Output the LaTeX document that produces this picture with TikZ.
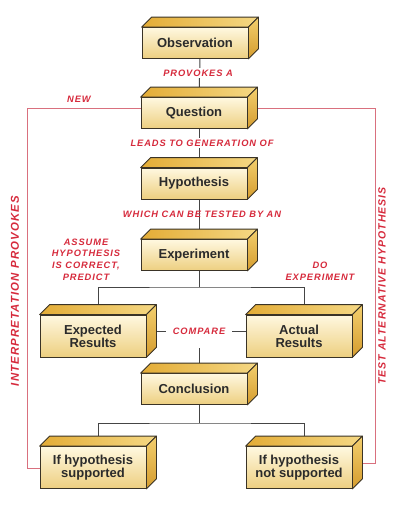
\documentclass[tikz,border=0pt]{standalone}
\usepackage{fontspec}
\setmainfont{Liberation Sans}
\newfontfamily\redfont[LetterSpace=10]{Liberation Sans}
\usetikzlibrary{backgrounds}
\definecolor{frontTop}{HTML}{FFF8E0}
\definecolor{frontBot}{HTML}{EDCF80}
\definecolor{topL}{HTML}{E3AC36}
\definecolor{topR}{HTML}{F5D884}
\definecolor{sideT}{HTML}{F3CF6E}
\definecolor{sideB}{HTML}{D59C2E}
\definecolor{boxline}{HTML}{3A3326}
\definecolor{boxtext}{HTML}{2B2B2B}
\definecolor{connc}{HTML}{454545}
\definecolor{redline}{HTML}{D9707E}
\definecolor{redtext}{HTML}{D62A3C}
\begin{document}
\begin{tikzpicture}[x=1pt,y=-1pt,
  box/.style={draw=boxline, line width=0.8pt, top color=frontTop, bottom color=frontBot,
    minimum width=106pt, minimum height=31pt, inner sep=0pt, text=boxtext, align=center,
    font=\fontsize{13}{13}\selectfont\bfseries},
  tallbox/.style={box, minimum height=42pt},
  conn/.style={draw=connc, line width=1pt},
  redconn/.style={draw=redline, line width=1pt},
  lbl/.style={text=redtext, font=\redfont\fontsize{9.3}{11.7}\selectfont\bfseries\itshape, inner sep=1.5pt, align=center},
  sidelbl/.style={lbl, font=\redfont\fontsize{10.5}{12}\selectfont\bfseries\itshape, rotate=90}
]
\useasboundingbox (0,0) rectangle (400,509);

% boxes
\node[box] (obs) at (195,43) {Observation};
\node[box] (q) at (194,113) {Question};
\node[box] (hyp) at (194,183.5) {Hypothesis};
\node[box] (exp) at (194,255) {Experiment};
\node[tallbox] (er) at (93,336) {Expected\\Results};
\node[tallbox] (ar) at (299,336) {Actual\\Results};
\node[box] (con) at (194,389) {Conclusion};
\node[tallbox] (sup) at (93,467.5) {If hypothesis\\supported};
\node[tallbox] (nsup) at (299,467.5) {If hypothesis\\not supported};

\foreach \n in {obs,q,hyp,exp,er,ar,con,sup,nsup}{
  \shadedraw[left color=topL, right color=topR, draw=boxline, line width=0.8pt, line join=round]
    (\n.north west) -- ++(10pt,10pt) -- ([shift={(10pt,10pt)}]\n.north east) -- (\n.north east) -- cycle;
  \shadedraw[top color=sideT, bottom color=sideB, draw=boxline, line width=0.8pt, line join=round]
    (\n.north east) -- ++(10pt,10pt) -- ([shift={(10pt,10pt)}]\n.south east) -- (\n.south east) -- cycle;
}

% labels
\node[lbl, fill=white] (l1) at (198,73) {PROVOKES A};
\node[lbl, fill=white] (l2) at (202,143) {LEADS TO GENERATION OF};
\node[lbl] (l3) at (202,214) {WHICH CAN BE TESTED BY AN};
\node[lbl] (l4) at (86,259.5) {ASSUME\\HYPOTHESIS\\IS CORRECT,\\PREDICT};
\node[lbl] (l5) at (320,271.5) {DO\\EXPERIMENT};
\node[lbl, inner sep=7pt] (cmp) at (199,331) {COMPARE};
\node[lbl] (lnew) at (79,99) {NEW};
\node[sidelbl, font=\redfont\fontsize{11.4}{12}\selectfont\bfseries\itshape] (lint) at (15,291) {INTERPRETATION PROVOKES};
\node[sidelbl] (ltest) at (382,286) {TEST ALTERNATIVE HYPOTHESIS};

\coordinate (cmpb) at (199,348);
\coordinate (eb) at (199,287);
\coordinate (cb) at (199,423);
\coordinate (lq) at (27,108);
\coordinate (ls) at (27,468);
\coordinate (rq) at (375,108);
\coordinate (rs) at (375,463);

\begin{pgfonlayer}{background}
  \draw[conn] ([xshift=5pt]obs.south) -- ([xshift=5pt]q.north);
  \draw[conn] ([xshift=5pt]q.south) -- ([xshift=5pt]hyp.north);
  \draw[conn] ([xshift=5pt]hyp.south) -- ([xshift=5pt]exp.north);
  \draw[conn] ([xshift=5pt]exp.south) -- (eb);
  \draw[conn] ([xshift=5pt]er.north) |- (eb) -| ([xshift=5pt]ar.north);
  \draw[conn] (cmp.west) -- (cmp.west -| er.east);
  \draw[conn] (cmp.east) -- (cmp.east -| ar.west);
  \draw[conn] (cmpb) -- ([xshift=5pt]con.north);
  \draw[conn] ([xshift=5pt]con.south) -- (cb);
  \draw[conn] ([xshift=5pt]sup.north) |- (cb) -| ([xshift=5pt]nsup.north);
  \draw[redconn] (q.west |- lq) -- (lq) -- (ls) -- (sup.west |- ls);
  \draw[redconn] ([xshift=5pt]q.east |- rq) -- (rq) -- (rs) -- ([xshift=5pt]nsup.east |- rs);
\end{pgfonlayer}
\end{tikzpicture}
\end{document}
